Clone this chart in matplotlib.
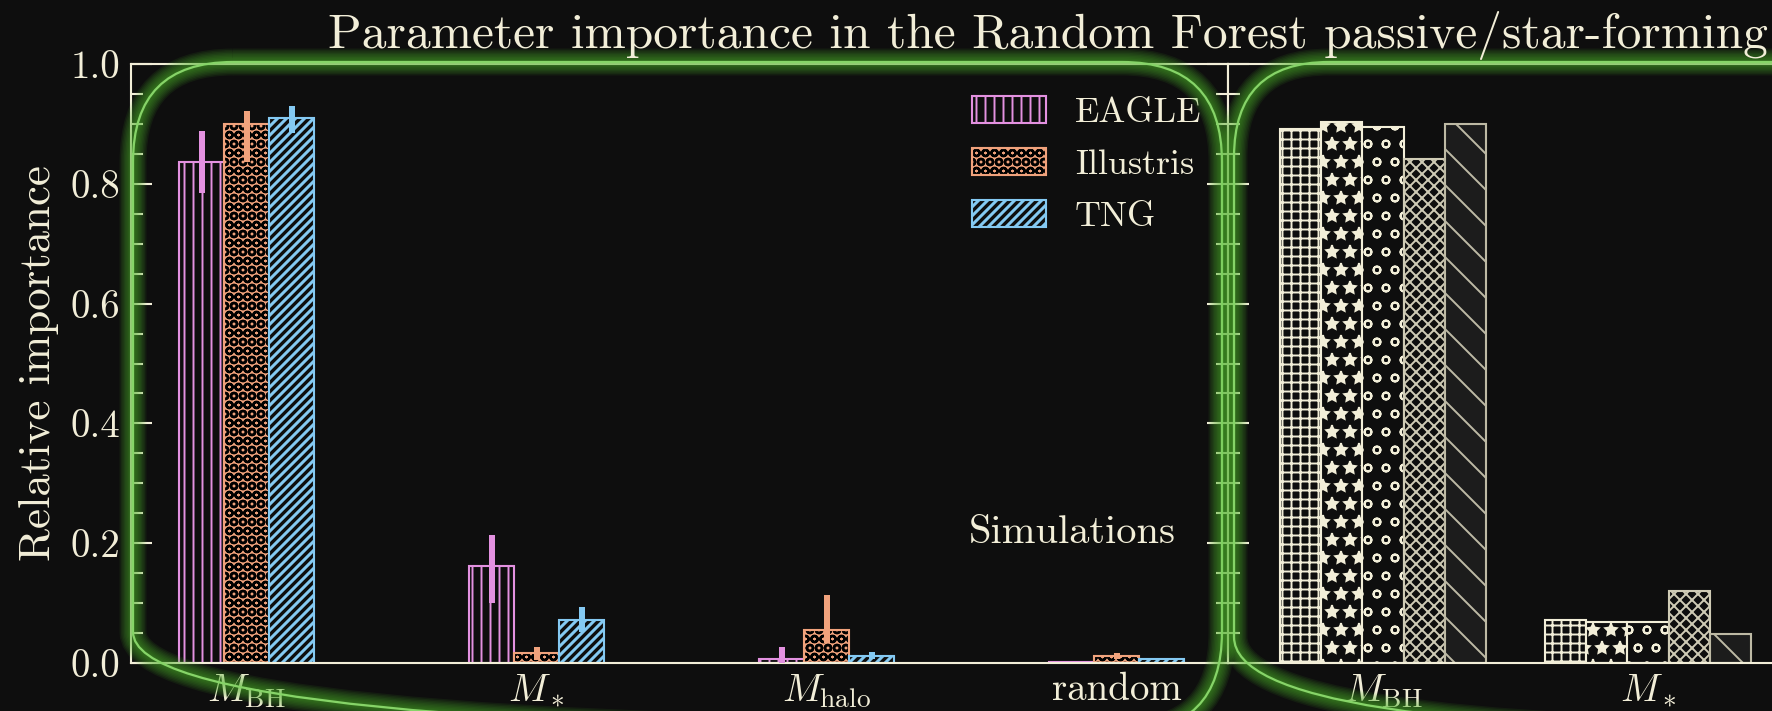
import matplotlib
matplotlib.use('Agg')
import matplotlib.pyplot as plt
import matplotlib.colors as mcolors
import matplotlib.patches as mpatches
from matplotlib.patches import FancyBboxPatch
from matplotlib.ticker import MultipleLocator, FormatStrFormatter
import numpy as np

plt.rcParams['font.family'] = 'serif'
plt.rcParams['font.serif'] = ['cmr10']
plt.rcParams['mathtext.fontset'] = 'cm'
plt.rcParams['axes.unicode_minus'] = False
plt.rcParams['axes.formatter.use_mathtext'] = True

# left panel: importance per feature for each simulation
features = [r'$M_{\rm BH}$', r'$M_*$', r'$M_{\rm halo}$', 'random']
sim_names = ['EAGLE', 'Illustris', 'TNG']
eagle_imp = [0.836, 0.162, 0.006, 0.001]
eagle_lo = [0.052, 0.062, 0.006, 0.0]
eagle_hi = [0.052, 0.051, 0.021, 0.0]
illustris_imp = [0.899, 0.016, 0.055, 0.011]
illustris_lo = [0.062, 0.011, 0.022, 0.005]
illustris_hi = [0.023, 0.011, 0.058, 0.005]
tng_imp = [0.910, 0.071, 0.012, 0.006]
tng_lo = [0.026, 0.019, 0.006, 0.0]
tng_hi = [0.020, 0.023, 0.006, 0.0]

# right panel
features_r = [r'$M_{\rm BH}$', r'$M_*$']
run_1 = [0.891, 0.071]
run_2 = [0.903, 0.068]
run_3 = [0.894, 0.069]
run_4 = [0.841, 0.121]
run_5 = [0.899, 0.048]

BG = '#0e0e0e'
FG = '#f2eed8'
PINK = '#e391e0'
ORANGE = '#f0a27c'
BLUE = '#84c9f2'
GLOW = '#4fb52c'
LINE = '#86d468'

W, H, DPI = 1772, 711, 108
fig = plt.figure(figsize=(W / DPI, H / DPI), dpi=DPI, facecolor=BG)
ax = fig.add_axes([131 / W, 1 - 663 / H, 1097 / W, 599 / H])
ax2 = fig.add_axes([1228 / W, 1 - 663 / H, 1097 / W, 599 / H], sharey=ax)

w = 0.155


def hatched(patches, hatch_color=None, hatch_lw=1.3):
    for p in patches:
        if hatch_color is not None:
            p._hatch_color = mcolors.to_rgba(hatch_color)
        if hasattr(p, 'set_hatch_linewidth'):
            p.set_hatch_linewidth(hatch_lw)


x = np.arange(len(features))
styles = [
    (eagle_imp, eagle_lo, eagle_hi, BG, PINK, '||', None, 1.3),
    (illustris_imp, illustris_lo, illustris_hi, ORANGE, ORANGE, 'OO', 'k', 1.6),
    (tng_imp, tng_lo, tng_hi, BG, BLUE, '////', None, 2.0),
]
handles = []
for i, (vals, lo, hi, face, edge, hatch, hc, hlw) in enumerate(styles):
    xs = x + (i - 1) * w
    bars = ax.bar(xs, vals, w, color=face, edgecolor=edge, hatch=hatch,
                  linewidth=1.4, zorder=2)
    hatched(bars, hc, hlw)
    ax.errorbar(xs, vals, yerr=[lo, hi], fmt='none', ecolor=edge,
                elinewidth=4, capsize=0, zorder=3)
    handles.append(mpatches.Patch(facecolor=face, edgecolor=edge,
                                  hatch=hatch, linewidth=1.4))

leg = ax.legend(handles, sim_names, loc='upper left',
                bbox_to_anchor=(0.767, 0.946), frameon=False, fontsize=24,
                handlelength=2.05, handleheight=0.78, handletextpad=0.8,
                labelspacing=0.52, borderpad=0, borderaxespad=0,
                labelcolor=FG)
for p, st in zip(leg.get_patches(), styles):
    hatched([p], st[6], st[7])

ax.text(0.764, 0.2, 'Simulations', transform=ax.transAxes, fontsize=27,
        color=FG, va='baseline', ha='left')

# right panel bars
x_r = np.arange(len(features_r))
runs = [run_1, run_2, run_3, run_4, run_5]
hatches_r = ['++', '*', 'o', 'xxx', '\\']
faces_r = [BG, BG, BG, BG, '#1c1c1c']
edges_r = [FG, FG, FG, '#cfcbb5', '#bdb9a4']
for i, vals in enumerate(runs):
    bars = ax2.bar(x_r + (i - 2) * w, vals, w, color=faces_r[i],
                   edgecolor=edges_r[i], hatch=hatches_r[i],
                   linewidth=1.4, zorder=2)
    hatched(bars, None, 1.3)

ax.set_xlim(-0.399, 3.384)
ax2.set_xlim(-0.585, -0.585 + 1097 / 265)
ax.set_xticks(x)
ax.set_xticklabels(features)
ax2.set_xticks(x_r)
ax2.set_xticklabels(features_r)

for a in (ax, ax2):
    a.set_facecolor(BG)
    a.set_ylim(0, 1)
    a.yaxis.set_major_locator(MultipleLocator(0.2))
    a.yaxis.set_minor_locator(MultipleLocator(0.05))
    a.yaxis.set_major_formatter(FormatStrFormatter('%.1f'))
    a.tick_params(axis='y', which='major', direction='in', length=14,
                  width=1.4, color=FG, left=True, right=True,
                  labelsize=26, labelcolor=FG, pad=7)
    a.tick_params(axis='y', which='minor', direction='in', length=8,
                  width=1.4, color=FG, left=True, right=True)
    a.tick_params(axis='x', length=0, pad=6, labelsize=26, labelcolor=FG)
    for s in a.spines.values():
        s.set_color(FG)
        s.set_linewidth(1.4)
ax2.tick_params(axis='y', labelleft=False)

ax.set_ylabel('Relative importance', fontsize=30, color=FG)
ax.yaxis.set_label_coords(-0.066, 0.5)

fig.text(328 / W, 1 - 48 / H,
         'Parameter importance in the Random Forest passive/star-forming',
         fontsize=33, color=FG, va='baseline', ha='left')

# glowing rounded frames around the panels, drawn in pixel units
ov = fig.add_axes([0, 0, 1, 1], facecolor='none')
ov.set_xlim(0, W)
ov.set_ylim(H, 0)
ov.axis('off')
frames = [(133, 62, 1089, 670, 100), (1234, 62, 700, 670, 95)]
for x0, y0, bw, bh, r in frames:
    for lw in np.linspace(18, 3, 9):
        ov.add_patch(FancyBboxPatch((x0, y0), bw, bh,
                                    boxstyle=f'round,pad=0,rounding_size={r}',
                                    fill=False, ec=GLOW, lw=lw, alpha=0.09))
    ov.add_patch(FancyBboxPatch((x0, y0), bw, bh,
                                boxstyle=f'round,pad=0,rounding_size={r}',
                                fill=False, ec=LINE, lw=1.5))

fig.savefig('out.png', dpi=DPI, facecolor=BG)
